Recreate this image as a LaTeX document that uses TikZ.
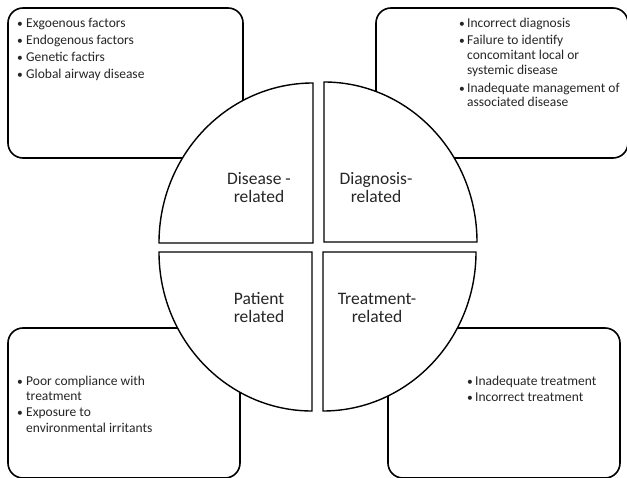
\documentclass[tikz,border=0pt]{standalone}
\usepackage{fontspec}
\setmainfont{Carlito}
\tikzset{
  box/.style={draw=black, line width=1.6pt, rounded corners=15pt},
  quad/.style={draw=black, line width=1.4pt, fill=white},
  item/.style={anchor=base west, inner sep=0pt, font=\fontsize{13.5}{15}\selectfont, text=black!85},
  bul/.style={anchor=base, inner sep=0pt, font=\fontsize{11.5}{15}\selectfont, text=black!85},
  lab/.style={anchor=base, inner sep=0pt, font=\fontsize{17.5}{18}\selectfont, text=black!85},
}
\begin{document}
\begin{tikzpicture}[x=1pt,y=1pt]
\useasboundingbox (0,0) rectangle (627,477);
\clip (0,0) rectangle (627,477);
\fill[white] (0,0) rectangle (627,477);
% boxes
\draw[box] (8,469) rectangle (243,319);
\draw[box] (376,469) rectangle (628,319);
\draw[box] (8,149) rectangle (240,-1);
\draw[box] (388,149) rectangle (620,-1);
% quadrants
\draw[quad] (313,234) -- (159,234) arc[start angle=180, end angle=90, x radius=154, y radius=160] -- cycle;
\draw[quad] (324,235) -- (324,395) arc[start angle=90, end angle=0, x radius=153, y radius=160] -- cycle;
\draw[quad] (312,225) -- (159,225) arc[start angle=180, end angle=270, x radius=153, y radius=159] -- cycle;
\draw[quad] (323,225) -- (476,225) arc[start angle=0, end angle=-90, x radius=153, y radius=159] -- cycle;
% labels
\node[lab] (l1a) at (259,292) {Disease -};
\node[lab] (l1b) at (259,274) {related};
\node[lab] (l2a) at (376,292) {Diagnosis-};
\node[lab] (l2b) at (376,274) {related};
\node[lab] (l3a) at (259,172) {Patient};
\node[lab] (l3b) at (259,154) {related};
\node[lab] (l4a) at (377,172) {Treatment-};
\node[lab] (l4b) at (377,154) {related};
% top-left box
\node[bul] (b1) at (20,449) {•};
\node[item] (a1) at (26,449) {Exgoenous factors};
\node[bul] (b2) at (20,432) {•};
\node[item] (a2) at (26,432) {Endogenous factors};
\node[bul] (b3) at (20,415) {•};
\node[item] (a3) at (26,415) {Genetic factirs};
\node[bul] (b4) at (20,398) {•};
\node[item] (a4) at (26,398) {Global airway disease};
% top-right box
\node[bul] (b5) at (462,449) {•};
\node[item] (c1) at (467,449) {Incorrect diagnosis};
\node[bul] (b6) at (462,432) {•};
\node[item] (c2) at (467,432) {Failure to identify};
\node[item] (c3) at (467,417) {concomitant local or};
\node[item] (c4) at (467,402) {systemic disease};
\node[bul] (b7) at (462,384) {•};
\node[item] (c5) at (467,384) {Inadequate management of};
\node[item] (c6) at (467,370) {associated disease};
% bottom-left box
\node[bul] (b8) at (20,91) {•};
\node[item] (d1) at (26,91) {Poor compliance with};
\node[item] (d2) at (26,76) {treatment};
\node[bul] (b9) at (20,60) {•};
\node[item] (d3) at (26,60) {Exposure to};
\node[item] (d4) at (26,45) {environmental irritants};
% bottom-right box
\node[bul] (b10) at (470,91) {•};
\node[item] (e1) at (475,91) {Inadequate treatment};
\node[bul] (b11) at (470,75) {•};
\node[item] (e2) at (475,75) {Incorrect treatment};
\end{tikzpicture}
\end{document}
